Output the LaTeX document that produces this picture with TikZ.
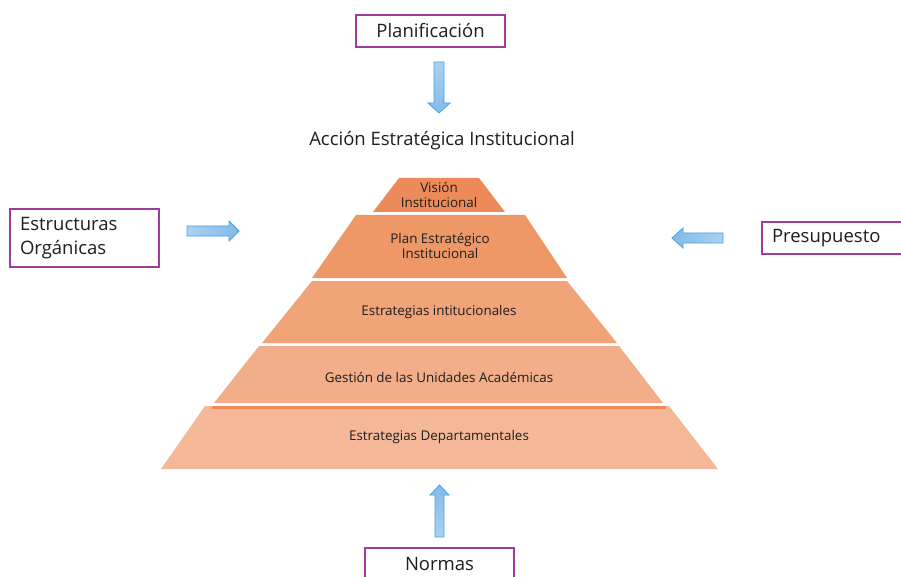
\documentclass[tikz,border=0pt]{standalone}
\usepackage{fontspec}
\setmainfont{Open Sans}
\usetikzlibrary{positioning}
\definecolor{boxline}{HTML}{A23B9E}
\definecolor{lvlA}{HTML}{EC8B59}
\definecolor{lvlB}{HTML}{EE9767}
\definecolor{lvlC}{HTML}{F0A478}
\definecolor{lvlD}{HTML}{F2AE88}
\definecolor{lvlE}{HTML}{F4B898}
\definecolor{arrowline}{HTML}{4BA3DD}
\definecolor{arrowlight}{HTML}{AAD1F1}
\definecolor{arrowdark}{HTML}{82BBE8}
\definecolor{inktext}{HTML}{1E1E1E}
\tikzset{
  labelbox/.style={draw=boxline, line width=2pt, minimum width=149pt, inner sep=0pt, text=inktext, font=\fontsize{18.5}{24}\selectfont},
  layertext/.style={text=inktext, align=center, inner sep=0pt, font=\fontsize{13.4}{15.5}\selectfont},
  blockarrow/.style={draw=arrowline, line width=0.8pt, line join=miter},
}
\begin{document}
\begin{tikzpicture}[x=1pt,y=-1pt]
\useasboundingbox (0,0) rectangle (901,577);
\fill[white] (0,0) rectangle (901,577);
\node[labelbox, minimum height=32pt] (plan) at (430.5,31) {Planificación};
\node[labelbox, minimum height=57pt, text width=129pt, align=left] (estr) at (84.5,238) {Estructuras\\Orgánicas};
\node[labelbox, minimum height=32pt, text width=129pt, align=left] (presu) at (836.5,238) {Presupuesto};
\node[labelbox, minimum height=32pt] (normas) at (439.5,564) {Normas};
\node[text=inktext, font=\fontsize{18.5}{22}\selectfont] (accion) at (442,141) {Acción Estratégica Institucional};
\fill[lvlA] (399,178) -- (479,178) -- (505,212) -- (373,212) -- cycle;
\fill[lvlB] (356,215) -- (525,215) -- (567,278) -- (312,278) -- cycle;
\fill[lvlC] (312,281) -- (567,281) -- (617,343) -- (262,343) -- cycle;
\fill[lvlD] (259,346) -- (619,346) -- (663,403) -- (214,403) -- cycle;
\fill[lvlE] (205,406) -- (669,406) -- (718,469) -- (161,469) -- cycle;
\fill[lvlA] (212,406) rectangle (666,409);
\node[layertext] (vision) at (439,195) {Visión\\Institucional};
\node[layertext] (planest) at (440,246) {Plan Estratégico\\Institucional};
\node[layertext] (estinst) at (439,312) {Estrategias intitucionales};
\node[layertext] (gestion) at (439,377) {Gestión de las Unidades Académicas};
\node[layertext] (estdep) at (439,437) {Estrategias Departamentales};
\path[blockarrow, top color=arrowlight, bottom color=arrowdark] (434,62) -- (444,62) -- (444,103) -- (450,103) -- (439,113) -- (428,103) -- (434,103) -- cycle;
\path[blockarrow, left color=arrowlight, right color=arrowdark] (187,226) -- (229,226) -- (229,221) -- (239,231) -- (229,241) -- (229,236) -- (187,236) -- cycle;
\path[blockarrow, left color=arrowdark, right color=arrowlight] (723,233) -- (683,233) -- (683,228) -- (672,238) -- (683,248) -- (683,243) -- (723,243) -- cycle;
\path[blockarrow, top color=arrowdark, bottom color=arrowlight] (435,537) -- (435,495) -- (430,495) -- (439.5,485) -- (449,495) -- (444,495) -- (444,537) -- cycle;
\end{tikzpicture}
\end{document}
